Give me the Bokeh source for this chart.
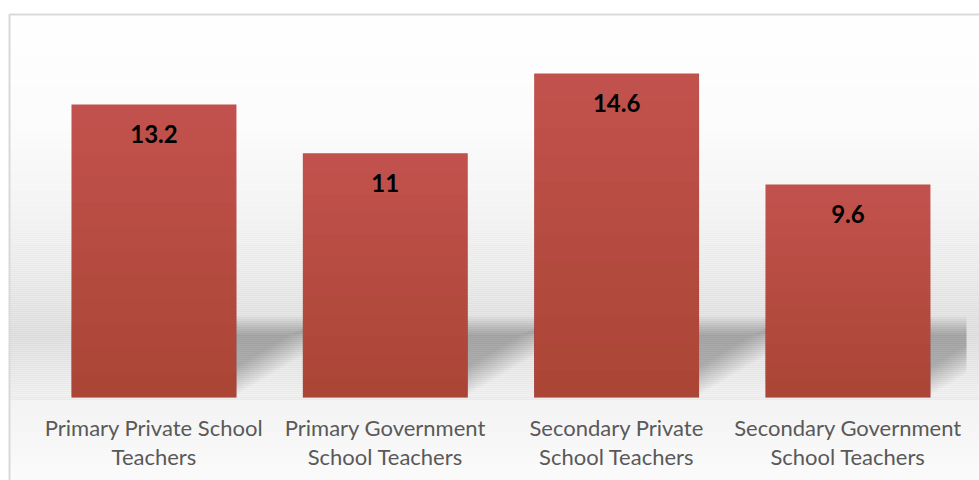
import numpy as np
from bokeh.plotting import figure
from bokeh.models import Range1d, ColumnDataSource
from bokeh.core.properties import value
from bokeh.embed import file_html
from bokeh.resources import INLINE

# ---- data ----
categories = ["Primary Private School Teachers", "Primary Government School Teachers",
              "Secondary Private School Teachers", "Secondary Government School Teachers"]
label_line1 = ["Primary Private School", "Primary Government", "Secondary Private", "Secondary Government"]
label_line2 = ["Teachers", "School Teachers", "School Teachers", "School Teachers"]
values = [13.2, 11, 14.6, 9.6]
value_labels = ["13.2", "11", "14.6", "9.6"]

# ---- layout (pixel mapping) ----
W, H = 979, 480
X0 = 37.8      # px of category 0 left edge
PXX = 231.33   # px per category
Y0 = 397.0     # px of value 0
PXY = 22.2     # px per unit


def px_x(px):
    return (np.asarray(px, dtype=float) - X0) / PXX


def px_y(py):
    return (Y0 - np.asarray(py, dtype=float)) / PXY


p = figure(width=W, height=H, output_backend="svg", toolbar_location=None,
           x_range=Range1d(float(px_x(0)), float(px_x(W))),
           y_range=Range1d(float(px_y(H)), float(px_y(0))),
           min_border=0, x_axis_location=None, y_axis_location=None)
p.grid.visible = False
p.outline_line_color = None
p.background_fill_color = "white"
p.border_fill_color = "white"

# ---- background gradient inside chart box ----
stops_py = [14, 120, 200, 270, 320, 335, 365, 395, 397, 399, 401, 440, 480]
stops_g = [255, 252, 244, 233, 222, 218, 228, 237, 234, 234, 242, 246, 251]
rows = np.arange(14, H + 2, 2)
gvals = np.interp(rows + 1, stops_py, stops_g)
bg_colors = ["#%02x%02x%02x" % (int(g), int(g), int(g)) for g in gvals]
p.quad(left=float(px_x(9)), right=float(px_x(W + 30)), top=px_y(rows), bottom=px_y(rows + 2),
       fill_color=bg_colors, line_color=None)

# chart box border
p.quad(left=float(px_x(9)), right=float(px_x(W + 30)), top=float(px_y(14)), bottom=float(px_y(H + 30)),
       fill_color=None, line_color="#d9d9d9", line_width=2)

# ---- bar geometry ----
n = len(values)
centers = np.arange(n) + 0.5
bw = 0.713

# ---- soft shadows cast to the right of each bar ----
layers = [(3 * k, 316 + 2 * k) for k in range(10)]
for d, top_py in layers:
    xs, ys = [], []
    for c in centers:
        Lpx = X0 + (c - bw / 2) * PXX
        Rpx = X0 + (c + bw / 2) * PXX
        ext = min(Rpx + 70, 966)
        y_r = 394 - d
        y_ext = y_r - 40 * (ext - Rpx) / 67
        poly_x = [Lpx, ext, ext, Rpx, Lpx]
        poly_y = [top_py, top_py, y_ext, y_r, y_r]
        xs.append(list(px_x(poly_x)))
        ys.append(list(px_y(poly_y)))
    p.patches(xs=xs, ys=ys, fill_color="black", fill_alpha=0.026, line_color=None)

# ---- bars ----
src = ColumnDataSource(dict(x=centers, top=values, label=value_labels, cat=categories))
p.vbar(x="x", top="top", bottom=0, width=bw, source=src, fill_color="#C3524E", line_color=None)

# vertical gradient overlay (darker toward the bottom)
N = 12
gx, gt = [], []
for k in range(1, N + 1):
    for c, v in zip(centers, values):
        gx.append(c)
        gt.append(v * k / N)
p.vbar(x=gx, top=gt, bottom=0, width=bw, fill_color="#6a1a10", fill_alpha=0.02, line_color=None)

# ---- value labels ----
p.text(x=centers, y=[v - 30 / PXY for v in values], text=value_labels,
       text_font=value("Lato"), text_font_style="bold", text_font_size="24px",
       text_align="center", text_baseline="alphabetic", text_color="black")

# ---- category labels ----
p.text(x=centers, y=[float(px_y(427))] * n, text=label_line1,
       text_font=value("Lato"), text_font_size="22px",
       text_align="center", text_baseline="alphabetic", text_color="#595959")
p.text(x=centers, y=[float(px_y(456))] * n, text=label_line2,
       text_font=value("Lato"), text_font_size="22px",
       text_align="center", text_baseline="alphabetic", text_color="#595959")

open("out.html", "w").write(file_html(p, INLINE))
